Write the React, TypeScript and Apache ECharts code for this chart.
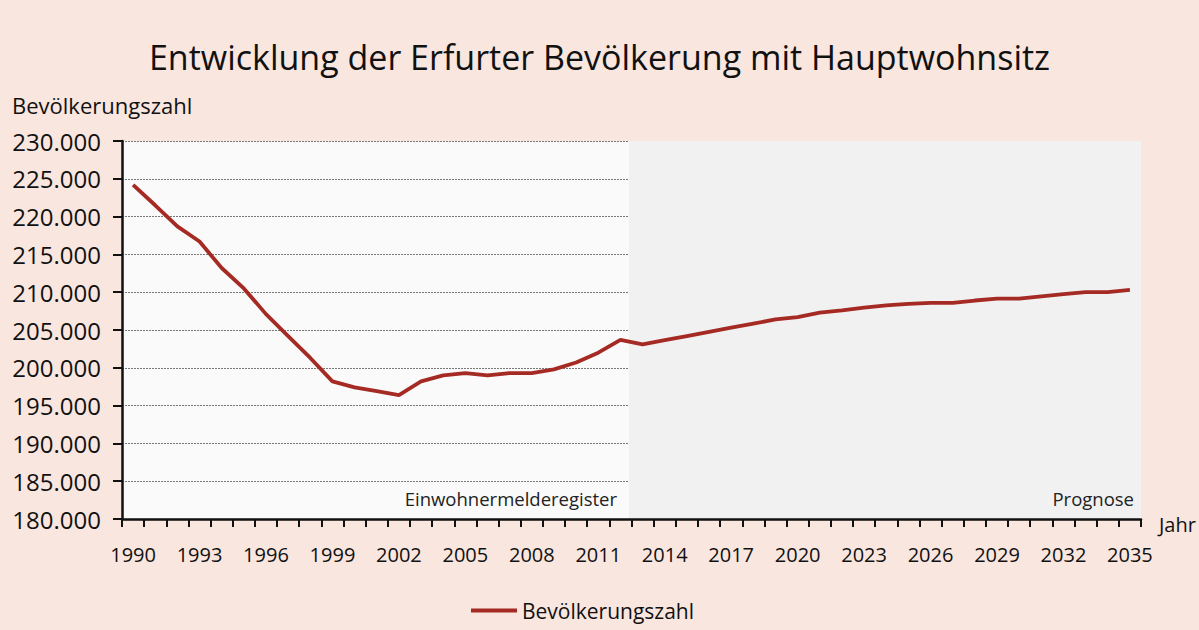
import React, { useEffect, useRef } from "react";
import * as echarts from "echarts";

const title = "Entwicklung der Erfurter Bevölkerung mit Hauptwohnsitz";
const seriesName = "Bevölkerungszahl";
const yAxisName = "Bevölkerungszahl";
const xAxisName = "Jahr";
const historicLabel = "Einwohnermelderegister";
const forecastLabel = "Prognose";
const forecastStart = "2013";

const years = [
  "1990", "1991", "1992", "1993", "1994", "1995", "1996", "1997", "1998", "1999",
  "2000", "2001", "2002", "2003", "2004", "2005", "2006", "2007", "2008", "2009",
  "2010", "2011", "2012", "2013", "2014", "2015", "2016", "2017", "2018", "2019",
  "2020", "2021", "2022", "2023", "2024", "2025", "2026", "2027", "2028", "2029",
  "2030", "2031", "2032", "2033", "2034", "2035",
];

const population = [
  224200, 221500, 218700, 216700, 213200, 210500, 207100, 204200, 201300, 198200,
  197400, 196900, 196400, 198200, 199000, 199300, 199000, 199300, 199300, 199800,
  200700, 202000, 203700, 203100, 203650, 204200, 204750, 205300, 205850, 206400,
  206700, 207300, 207600, 207950, 208250, 208450, 208600, 208600, 208900, 209150,
  209150, 209450, 209750, 210000, 210000, 210300,
];

const yMin = 180000;
const yMax = 230000;
const yStep = 5000;

const FONT = "'Open Sans', 'Noto Sans', sans-serif";

function fmt(v: number): string {
  return String(v).replace(/\B(?=(\d{3})+(?!\d))/g, ".");
}

export default function App() {
  const ref = useRef<HTMLDivElement>(null);

  useEffect(() => {
    if (!ref.current) return;
    const chart = echarts.init(ref.current, null, { renderer: "svg" });
    const gridLeft = 122;
    const gridRight = 58;
    const gridTop = 141;
    const gridBottom = 111;

    const option: any = {
      animation: false,
      backgroundColor: "#f9e6df",
      title: {
        text: title,
        left: "center",
        top: 35,
        textStyle: { fontFamily: FONT, fontSize: 34, fontWeight: "normal", color: "#111" },
      },
      legend: {
        left: 466,
        top: 595,
        icon: "rect",
        itemWidth: 46,
        itemHeight: 4,
        itemGap: 10,
        textStyle: { fontFamily: FONT, fontSize: 21, color: "#111" },
        data: [seriesName],
      },
      grid: {
        left: gridLeft,
        right: gridRight,
        top: gridTop,
        bottom: gridBottom,
        show: true,
        backgroundColor: "#fafafa",
        borderWidth: 0,
      },
      xAxis: {
        type: "category",
        data: years,
        boundaryGap: true,
        axisLine: { lineStyle: { color: "#111", width: 2.5 } },
        axisTick: { show: true, interval: 0, length: 8, lineStyle: { color: "#111", width: 2 } },
        axisLabel: {
          interval: 2,
          fontFamily: FONT,
          fontSize: 20,
          color: "#111",
          margin: 25,
        },
        splitLine: { show: false },
      },
      yAxis: {
        type: "value",
        min: yMin,
        max: yMax,
        interval: yStep,
        axisLine: { show: true, lineStyle: { color: "#111", width: 2.5 } },
        axisTick: { show: true, length: 9, lineStyle: { color: "#111", width: 2 } },
        axisLabel: {
          fontFamily: FONT,
          fontSize: 24,
          color: "#111",
          margin: 21,
          formatter: (v: number) => fmt(v),
        },
        splitLine: { show: true, lineStyle: { color: "#777", width: 1, type: [2, 1] } },
      },
      series: [
        {
          name: seriesName,
          type: "line",
          data: population,
          showSymbol: false,
          symbol: "none",
          z: 5,
          lineStyle: { color: "#a52a24", width: 3.8 },
          itemStyle: { color: "#a52a24" },
        },
      ],
    };
    chart.setOption(option);

    const idx = years.indexOf(forecastStart);
    const pPrev = chart.convertToPixel({ gridIndex: 0 }, [idx - 1, yMax]) as number[];
    const pCur = chart.convertToPixel({ gridIndex: 0 }, [idx, yMax]) as number[];
    const pBottom = chart.convertToPixel({ gridIndex: 0 }, [idx, yMin]) as number[];
    const boundary = pPrev[0] + (pCur[0] - pPrev[0]) * 0.3;
    const rightEdge = 1199 - gridRight;
    const top = pCur[1];
    const bottom = pBottom[1];

    chart.setOption({
      graphic: [
        {
          type: "rect",
          z: 0,
          zlevel: 0,
          silent: true,
          shape: { x: boundary + 2, y: top, width: rightEdge - boundary - 2, height: bottom - top },
          style: { fill: "#f0f1f0" },
        },
        {
          type: "text",
          left: 12,
          top: 94,
          style: { text: yAxisName, font: `22px ${FONT}`, fill: "#111" },
        },
        {
          type: "text",
          left: 1159,
          top: 514,
          style: { text: xAxisName, font: `20px ${FONT}`, fill: "#111" },
        },
        {
          type: "text",
          x: boundary - 10,
          y: bottom - 21,
          z: 10,
          style: {
            text: historicLabel,
            font: `18.5px ${FONT}`,
            fill: "#222",
            align: "right",
            verticalAlign: "middle",
          },
        },
        {
          type: "text",
          x: rightEdge - 7,
          y: bottom - 21,
          z: 10,
          style: {
            text: forecastLabel,
            font: `18.5px ${FONT}`,
            fill: "#222",
            align: "right",
            verticalAlign: "middle",
          },
        },
      ],
    });

    return () => chart.dispose();
  }, []);

  return (
    <div
      ref={ref}
      style={{ position: "fixed", left: 0, top: 0, width: 1199, height: 630 }}
    />
  );
}
